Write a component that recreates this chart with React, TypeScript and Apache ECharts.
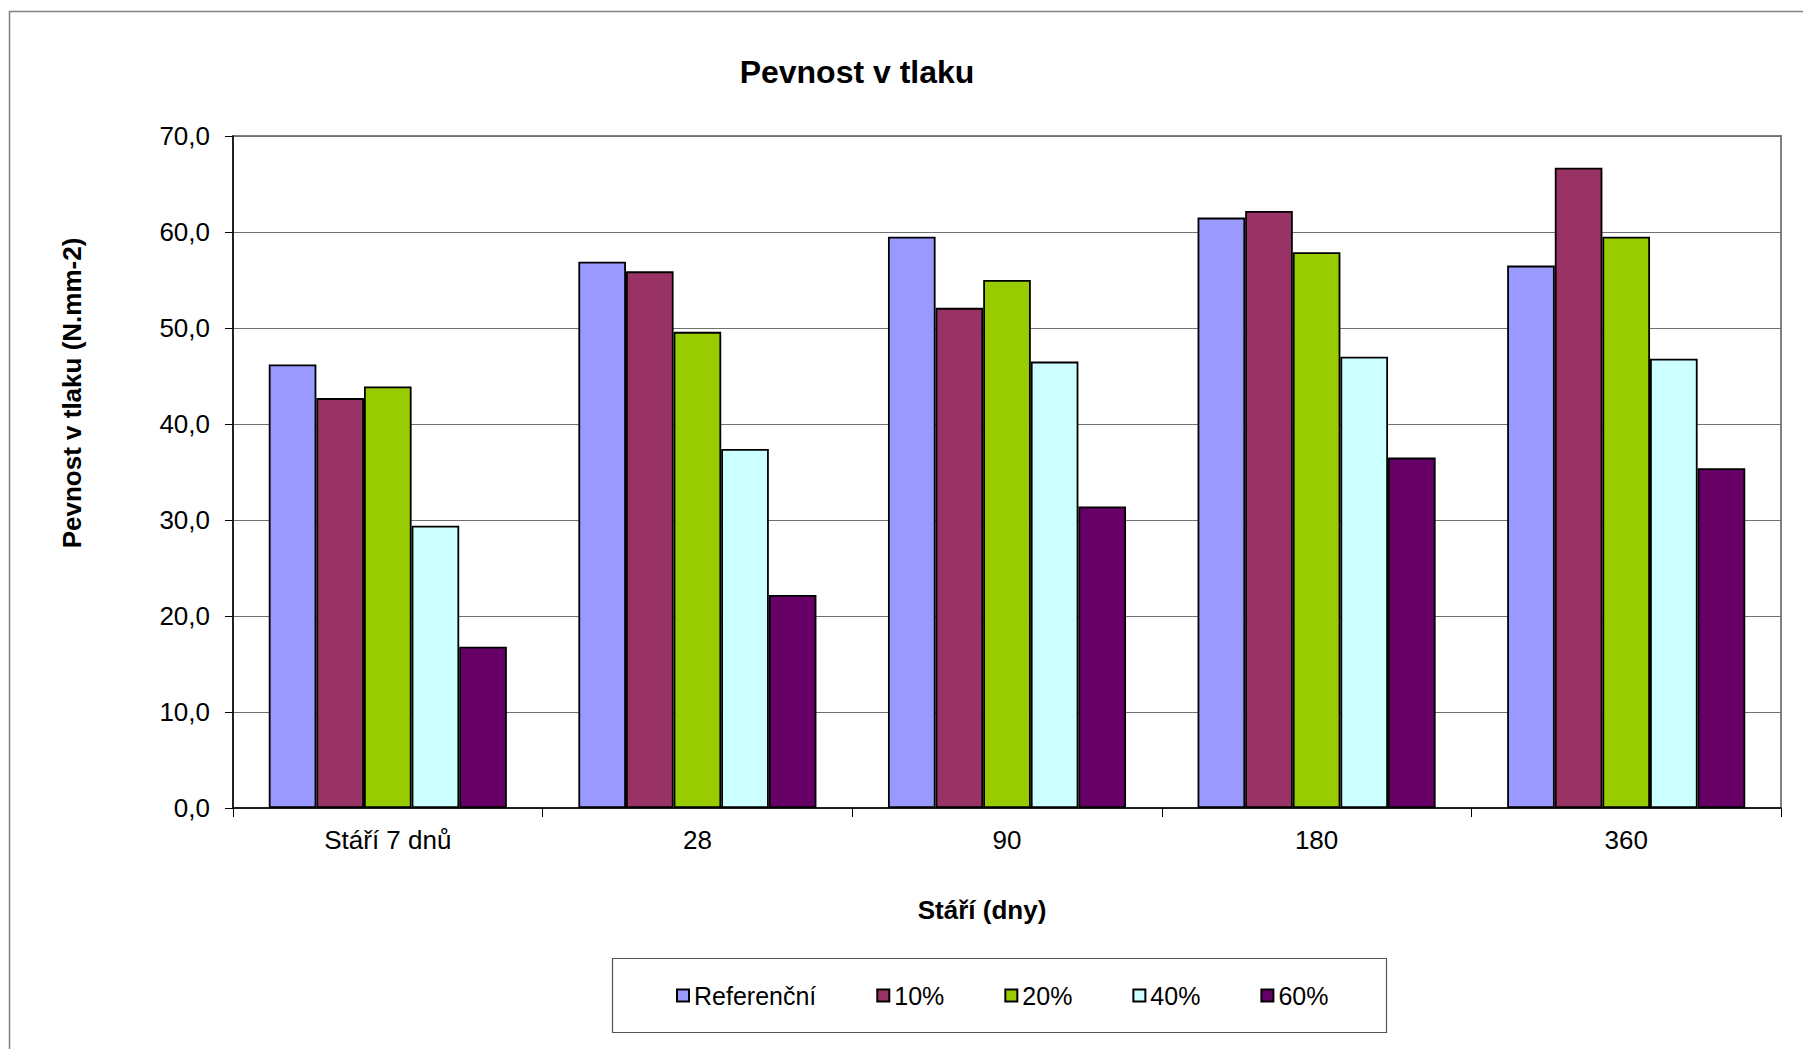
import React, { useEffect, useRef } from "react";
import * as echarts from "echarts";

// Compressive strength by age and replacement level
const categories = ["Stáří 7 dnů", "28", "90", "180", "360"];
const seriesNames = ["Referenční", "10%", "20%", "40%", "60%"];
const referencni = [46.2, 56.9, 59.5, 61.5, 56.5];
const p10 = [42.7, 55.9, 52.1, 62.2, 66.7];
const p20 = [43.9, 49.6, 55.0, 57.9, 59.5];
const p40 = [29.4, 37.4, 46.5, 47.0, 46.8];
const p60 = [16.8, 22.2, 31.4, 36.5, 35.4];
const seriesValues = [referencni, p10, p20, p40, p60];
const colors = ["#9999FF", "#993366", "#99CC00", "#CCFFFF", "#660066"];

const FONT = 'Arial, "Liberation Sans", sans-serif';

export default function App() {
  const ref = useRef<HTMLDivElement>(null);

  useEffect(() => {
    if (!ref.current) return;
    const chart = echarts.init(ref.current, null, { renderer: "svg" });
    chart.setOption({
      animation: false,
      backgroundColor: "#ffffff",
      textStyle: { fontFamily: FONT, color: "#000" },
      grid: {
        left: 233,
        right: 22,
        top: 136,
        bottom: 241,
        show: true,
        borderColor: "#808080",
        borderWidth: 2,
        containLabel: false,
      },
      legend: {
        data: seriesNames,
        left: 676,
        top: 983,
        padding: 0,
        itemWidth: 12,
        itemHeight: 12,
        itemGap: 60,
        icon: "rect",
        textStyle: { fontFamily: FONT, fontSize: 25, color: "#000" },
      },
      xAxis: {
        type: "category",
        data: categories,
        axisLine: { lineStyle: { color: "#000", width: 1.5 } },
        axisTick: { show: true, length: 9, lineStyle: { color: "#000" } },
        axisLabel: {
          fontFamily: FONT,
          fontSize: 26,
          lineHeight: 26,
          color: "#000",
          margin: 19,
        },
      },
      yAxis: {
        type: "value",
        min: 0,
        max: 70,
        interval: 10,
        axisLine: { show: true, lineStyle: { color: "#000", width: 1.5 } },
        axisTick: { show: true, length: 8, lineStyle: { color: "#000" } },
        splitLine: { lineStyle: { color: "#707070", width: 1.2 } },
        axisLabel: {
          fontFamily: FONT,
          fontSize: 26,
          color: "#000",
          margin: 23,
          formatter: (v: number) => v.toFixed(1).replace(".", ","),
        },
      },
      series: seriesNames.map((name, i) => ({
        name,
        type: "bar",
        data: seriesValues[i],
        barGap: "0%",
        barCategoryGap: "23.1%",
        itemStyle: {
          color: colors[i],
          borderColor: "#000",
          borderWidth: 1.8,
        },
      })),
      graphic: [
        {
          type: "rect",
          silent: true,
          z: -10,
          shape: { x: 9.5, y: 11.5, width: 1810, height: 1060 },
          style: { fill: "none", stroke: "#808080", lineWidth: 1.5 },
        },
        {
          type: "rect",
          silent: true,
          shape: { x: 612.5, y: 958.5, width: 774, height: 74 },
          style: { fill: "none", stroke: "#555", lineWidth: 1.2 },
        },
        {
          type: "text",
          x: 857,
          y: 72,
          style: {
            text: "Pevnost v tlaku",
            fontFamily: FONT,
            fontSize: 32,
            fontWeight: "bold",
            fill: "#000",
            textAlign: "center",
            textVerticalAlign: "middle",
          },
        },
        {
          type: "text",
          x: 72,
          y: 393,
          rotation: Math.PI / 2,
          style: {
            text: "Pevnost v tlaku (N.mm-2)",
            fontFamily: FONT,
            fontSize: 26,
            fontWeight: "bold",
            fill: "#000",
            textAlign: "center",
            textVerticalAlign: "middle",
          },
        },
        {
          type: "text",
          x: 982,
          y: 910,
          style: {
            text: "Stáří (dny)",
            fontFamily: FONT,
            fontSize: 26,
            fontWeight: "bold",
            fill: "#000",
            textAlign: "center",
            textVerticalAlign: "middle",
          },
        },
      ],
    });
    return () => chart.dispose();
  }, []);

  return (
    <div
      ref={ref}
      style={{ position: "fixed", left: 0, top: 0, width: 1803, height: 1049 }}
    />
  );
}
